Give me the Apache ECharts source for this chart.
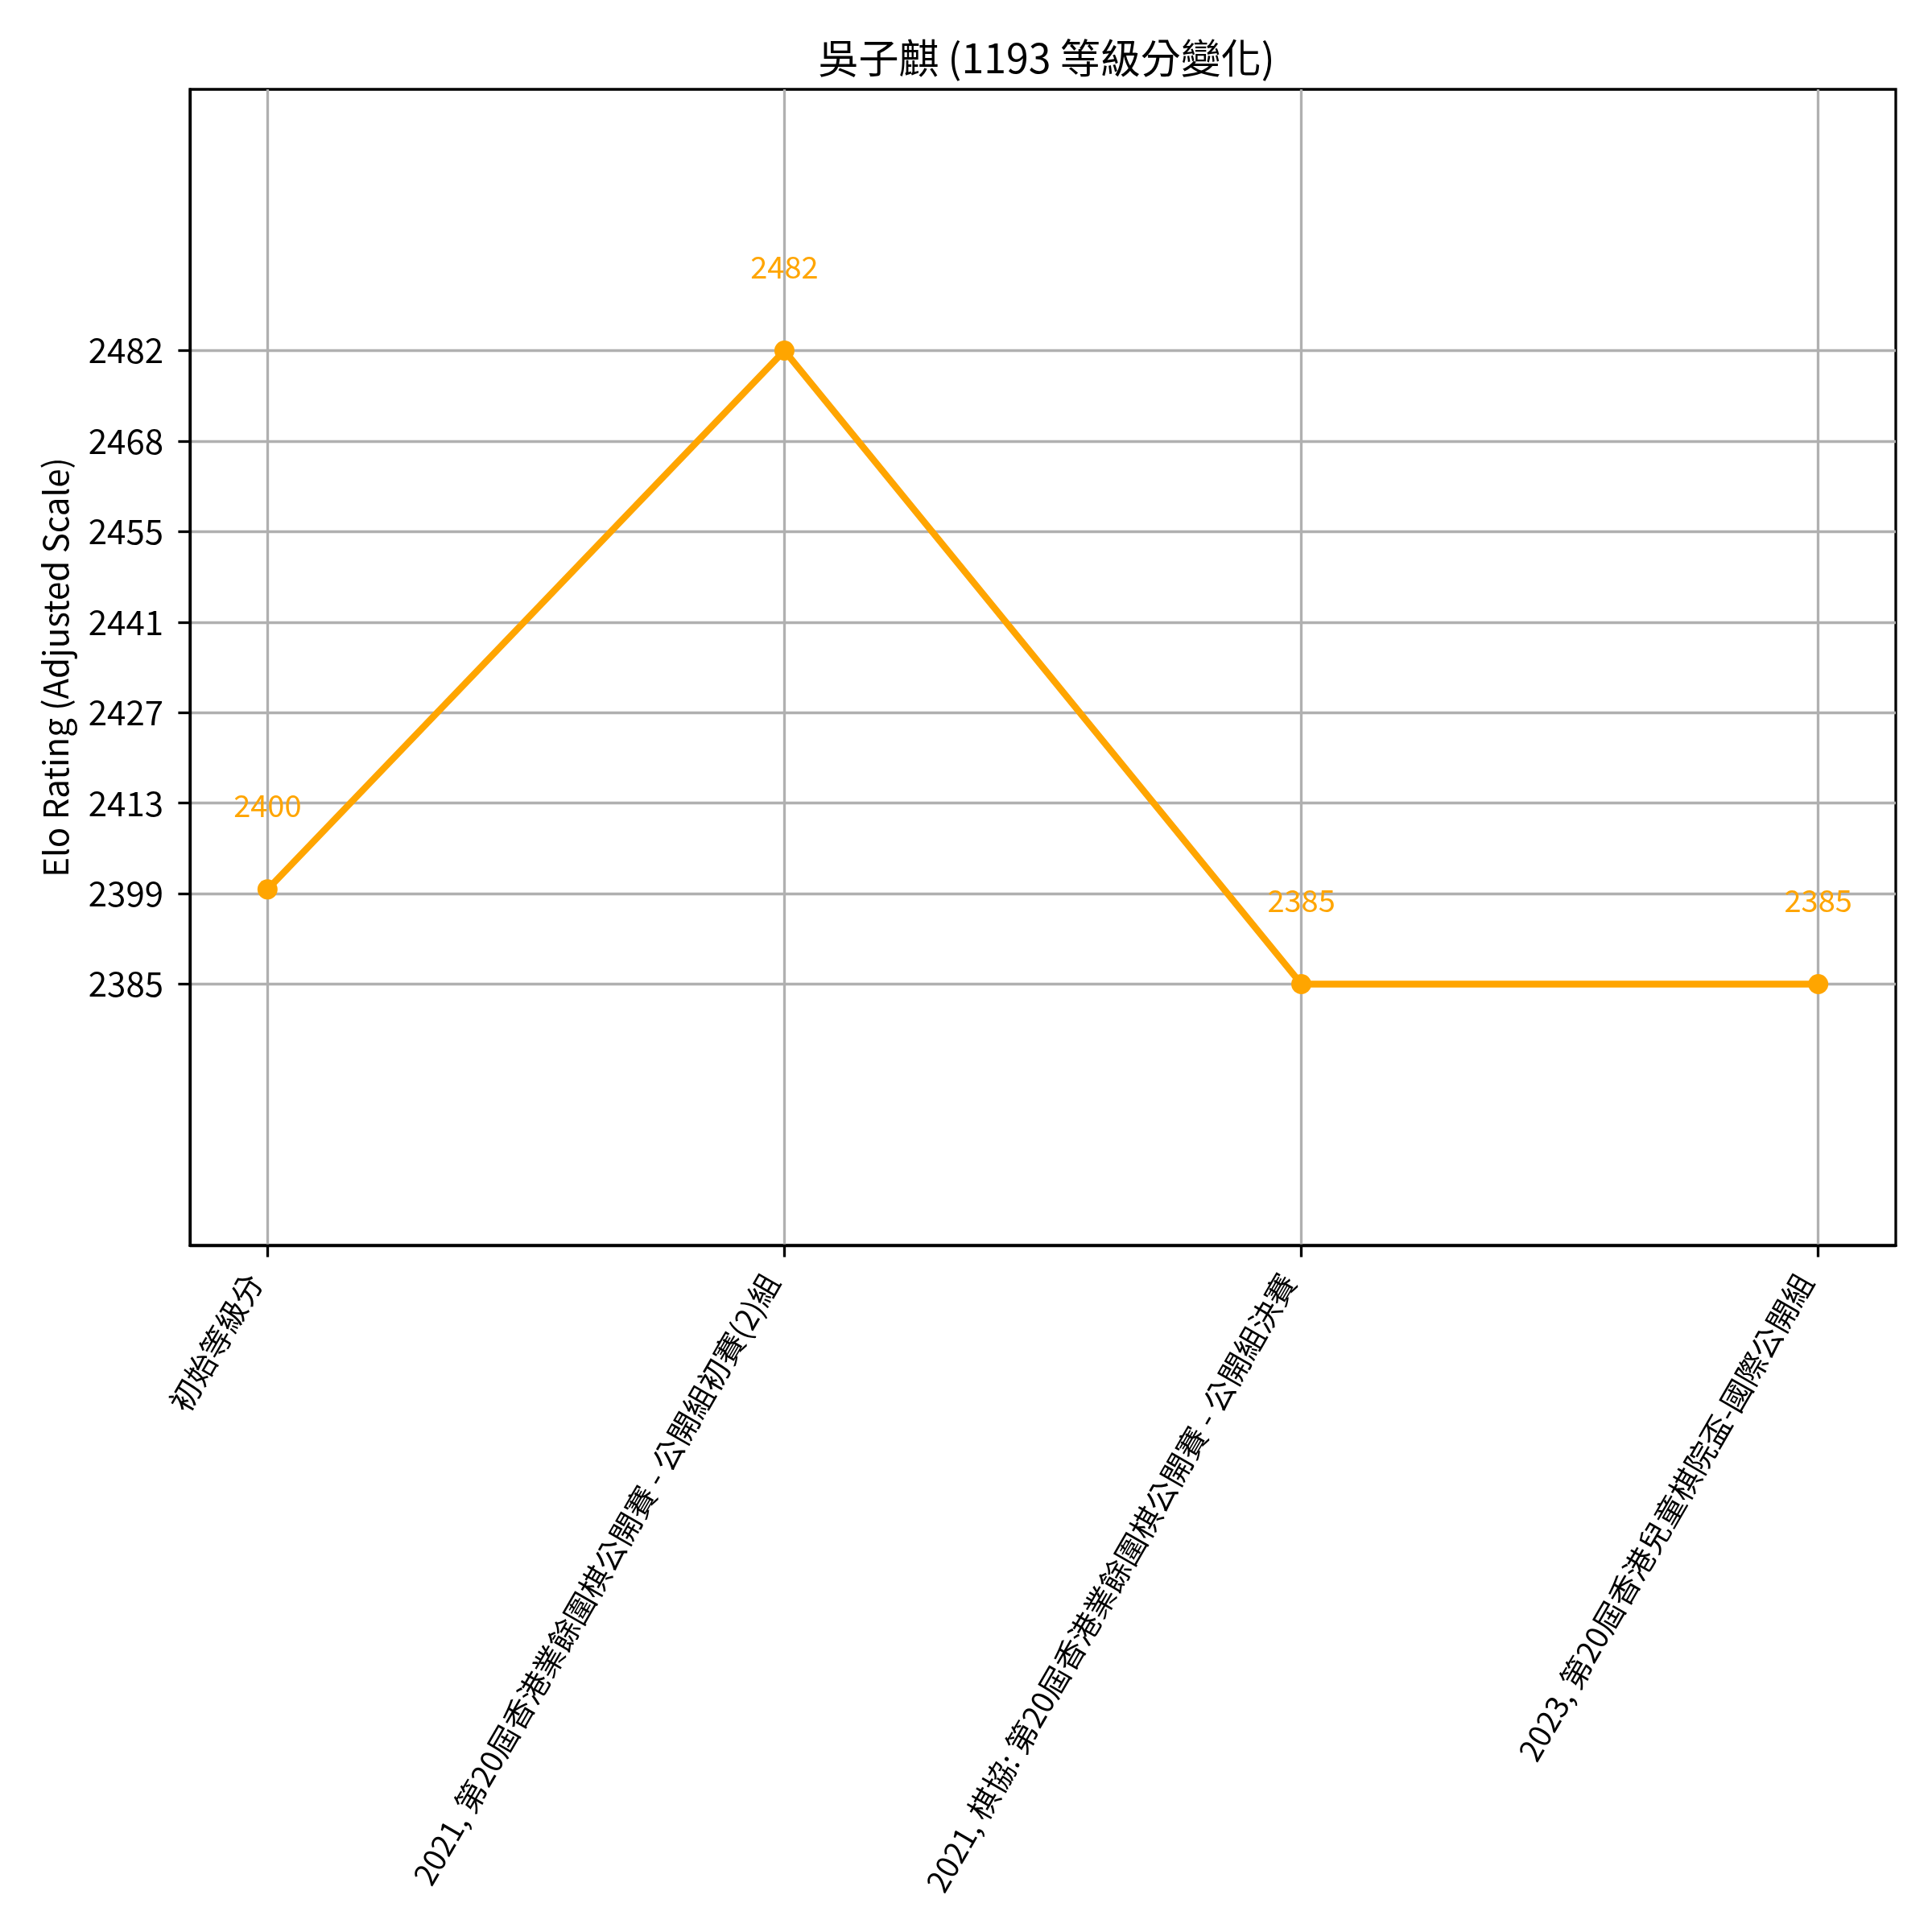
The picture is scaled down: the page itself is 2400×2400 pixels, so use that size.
<!DOCTYPE html>
<html>
<head>
<meta charset="utf-8">
<script src="https://cdn.jsdelivr.net/npm/echarts@6/dist/echarts.min.js"></script>
<style>
html,body{margin:0;padding:0;background:#fff;}
#main{width:2400px;height:2400px;}
</style>
</head>
<body>
<div id="main"></div>
<script>
const titleText = '吳子麒 (1193 等級分變化)';
const yAxisName = 'Elo Rating (Adjusted Scale)';
const categories = [
  '初始等級分',
  '2021, 第20屆香港業餘圍棋公開賽 - 公開組初賽(2)組',
  '2021, 棋協: 第20屆香港業餘圍棋公開賽 - 公開組決賽',
  '2023, 第20屆香港兒童棋院盃-國際公開組'
];
const ratings = [2399.5, 2482, 2385, 2385];
const ratingLabels = ['2400', '2482', '2385', '2385'];
const yTickValues = [2385, 2398.857, 2412.714, 2426.571, 2440.429, 2454.286, 2468.143, 2482];
const yTickLabels = ['2385', '2399', '2413', '2427', '2441', '2455', '2468', '2482'];
const xTickValues = [0, 1, 2, 3];

const FONT = '"Noto Sans CJK TC", "Noto Sans", sans-serif';
const chart = echarts.init(document.getElementById('main'), null, {renderer: 'canvas'});

const option = {
  backgroundColor: '#ffffff',
  animation: false,
  title: {
    text: titleText,
    left: 1295,
    textAlign: 'center',
    top: 42,
    textStyle: {fontFamily: FONT, fontSize: 50, fontWeight: 'normal', color: '#000'}
  },
  grid: {
    left: 236, right: 45, top: 111, bottom: 853,
    outerBoundsMode: 'none',
    containLabel: false,
    show: true, borderColor: '#000', borderWidth: 3.3, backgroundColor: 'transparent'
  },
  xAxis: {
    type: 'value',
    min: -0.15, max: 3.15,
    axisLine: {show: true, onZero: false, lineStyle: {color: '#000', width: 3.3}},
    axisTick: {show: true, length: 14.6, lineStyle: {color: '#000', width: 3.3}, customValues: xTickValues},
    splitLine: {show: true, lineStyle: {color: '#b0b0b0', width: 3.3}},
    axisLabel: {
      customValues: xTickValues,
      rotate: 60,
      align: 'right',
      verticalAlign: 'bottom',
      margin: 48,
      fontFamily: FONT, fontSize: 38, color: '#000',
      formatter: function (v) { return categories[Math.round(v)]; }
    }
  },
  yAxis: {
    type: 'value',
    min: 2345, max: 2522,
    name: yAxisName,
    nameLocation: 'middle',
    nameRotate: 90,
    nameGap: 146,
    nameTextStyle: {fontFamily: FONT, fontSize: 42, color: '#000'},
    axisLine: {show: true, onZero: false, lineStyle: {color: '#000', width: 3.3}},
    axisTick: {show: true, length: 14.6, lineStyle: {color: '#000', width: 3.3}, customValues: yTickValues},
    splitLine: {show: true, lineStyle: {color: '#b0b0b0', width: 3.3}},
    axisLabel: {
      customValues: yTickValues,
      margin: 33,
      fontFamily: FONT, fontSize: 42, color: '#000',
      formatter: function (v) {
        let best = 0;
        for (let i = 0; i < yTickValues.length; i++) {
          if (Math.abs(yTickValues[i] - v) < Math.abs(yTickValues[best] - v)) best = i;
        }
        return yTickLabels[best];
      }
    }
  },
  series: [{
    type: 'line',
    data: ratings.map((v, i) => [i, v]),
    symbol: 'circle',
    symbolSize: 25,
    lineStyle: {color: '#FFA500', width: 8.3},
    itemStyle: {color: '#FFA500'},
    label: {
      show: true,
      position: 'inside',
      offset: [0, -104],
      fontFamily: FONT, fontSize: 38, color: '#FFA500',
      formatter: function (p) { return ratingLabels[p.dataIndex]; }
    }
  }]
};
chart.setOption(option);
</script>
</body>
</html>
